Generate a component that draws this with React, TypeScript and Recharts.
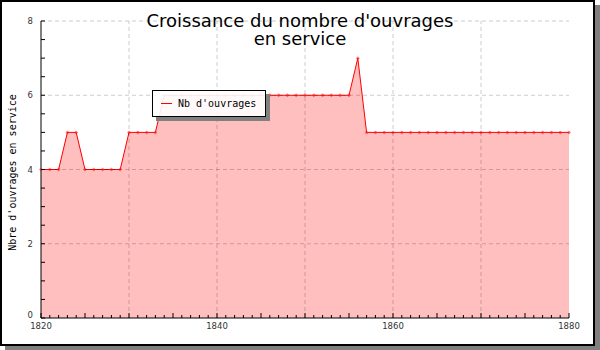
import React from 'react';
import { ComposedChart, Area, XAxis, YAxis, ReferenceLine, Legend } from 'recharts';

const years = [1820, 1821, 1822, 1823, 1824, 1825, 1826, 1827, 1828, 1829, 1830, 1831, 1832, 1833, 1834, 1835, 1836, 1837, 1838, 1839, 1840, 1841, 1842, 1843, 1844, 1845, 1846, 1847, 1848, 1849, 1850, 1851, 1852, 1853, 1854, 1855, 1856, 1857, 1858, 1859, 1860, 1861, 1862, 1863, 1864, 1865, 1866, 1867, 1868, 1869, 1870, 1871, 1872, 1873, 1874, 1875, 1876, 1877, 1878, 1879, 1880];
const ouvrages = [4, 4, 4, 5, 5, 4, 4, 4, 4, 4, 5, 5, 5, 5, 6, 6, 6, 6, 6, 6, 6, 6, 6, 6, 6, 6, 6, 6, 6, 6, 6, 6, 6, 6, 6, 6, 7, 5, 5, 5, 5, 5, 5, 5, 5, 5, 5, 5, 5, 5, 5, 5, 5, 5, 5, 5, 5, 5, 5, 5, 5];
const xLabelTicks = [1820, 1840, 1860, 1880];
const xGridLines = [1830, 1840, 1850, 1860, 1870];
const yTicks = [0, 0.5, 1, 1.5, 2, 2.5, 3, 3.5, 4, 4.5, 5, 5.5, 6, 6.5, 7, 7.5, 8];
const yLabelTicks = [0, 2, 4, 6, 8];
const yGridLines = [2, 4, 6, 8];
const titleLines = ["Croissance du nombre d'ouvrages", 'en service'];
const seriesName = "Nb d'ouvrages";
const yAxisTitle = "Nbre d'ouvrages en service";

const data = years.map((y, i) => ({ year: y, value: ouvrages[i] }));

const XTick = (props: any) => {
  const { x, y, payload } = props;
  const v = payload.value;
  const len = v % 5 === 0 ? 5 : 3;
  return (
    <g>
      <line x1={x} x2={x} y1={y} y2={y - len} stroke="#000" strokeWidth={1} />
      {xLabelTicks.includes(v) && (
        <text x={x} y={y + 11} textAnchor="middle" fontFamily="DejaVu Sans" fontSize={8.5} fill="#333">
          {v}
        </text>
      )}
    </g>
  );
};

const YTick = (props: any) => {
  const { x, y, payload } = props;
  const v = payload.value;
  return (
    <g>
      <line x1={x} x2={x + 4} y1={y} y2={y} stroke="#000" strokeWidth={1} />
      {yLabelTicks.includes(v) && (
        <text x={x - 8} y={v === 0 ? y : y + 3} textAnchor="end" fontFamily="DejaVu Sans" fontSize={8.5} fill="#333">
          {v}
        </text>
      )}
    </g>
  );
};

const Dot = (props: any) => {
  const { cx, cy, index } = props;
  if (cx == null || cy == null) return null;
  return (
    <path key={index} d={`M${cx - 2},${cy} L${cx},${cy - 2} L${cx + 2},${cy} L${cx},${cy + 2} Z`} fill="#ff0000" fillOpacity={0.5} />
  );
};

const LegendContent = (props: any) => {
  const { payload } = props;
  return (
    <div
      style={{
        boxSizing: 'border-box',
        width: 114,
        height: 27,
        border: '1px solid #000',
        background: 'rgba(255,255,255,0.9)',
        boxShadow: '4px 4px 0 #808080',
        position: 'relative',
      }}
    >
      {(payload || []).map((p: any, i: number) => (
        <div key={i} style={{ position: 'absolute', left: 8, top: 5, display: 'flex', alignItems: 'center' }}>
          <div style={{ width: 11, height: 1, background: '#ff0000', marginRight: 6 }} />
          <span style={{ fontFamily: 'DejaVu Sans Mono', fontSize: 10, color: '#000', lineHeight: '15px' }}>{p.value}</span>
        </div>
      ))}
    </div>
  );
};

const YAxisTitle = (props: any) => {
  const { viewBox } = props;
  const cx = viewBox.x + 12;
  const cy = viewBox.y + viewBox.height / 2 + 3;
  return (
    <text x={cx} y={cy} transform={`rotate(-90 ${cx} ${cy})`} textAnchor="middle" dominantBaseline="central" fontFamily="DejaVu Sans Mono" fontSize={10} fill="#000">
      {yAxisTitle}
    </text>
  );
};

export default function App() {
  return (
    <div style={{ position: 'absolute', left: 0, top: 0, width: 600, height: 350, background: '#fff' }}>
      <div
        style={{
          position: 'absolute',
          left: 0,
          top: 0,
          width: 595,
          height: 346,
          boxSizing: 'border-box',
          border: '2px solid #000',
          boxShadow: '5px 5px 0 #808080',
          background: '#fff',
        }}
      />
      <div style={{ position: 'absolute', left: 0, top: 0 }}>
        <ComposedChart width={600} height={350} data={data} margin={{ top: 21, right: 31, bottom: 12, left: 0 }}>
          <XAxis
            dataKey="year"
            type="number"
            domain={[1820, 1880]}
            ticks={years}
            interval={0}
            tick={<XTick />}
            tickLine={false}
            tickSize={0}
            tickMargin={0}
            height={20}
            axisLine={{ stroke: '#000', strokeWidth: 1 }}
          />
          <YAxis
            type="number"
            domain={[0, 8]}
            ticks={yTicks}
            interval={0}
            tick={<YTick />}
            tickLine={false}
            tickSize={0}
            tickMargin={0}
            width={41}
            axisLine={{ stroke: '#000', strokeWidth: 1 }}
            label={{ content: <YAxisTitle /> }}
          />
          <Area
            type="linear"
            dataKey="value"
            name={seriesName}
            stroke="#ff0000"
            strokeWidth={1}
            fill="#ffbfbf"
            fillOpacity={1}
            dot={<Dot />}
            activeDot={false}
            isAnimationActive={false}
          />
          {xGridLines.map((g) => (
            <ReferenceLine key={'x' + g} x={g} stroke="rgba(0,0,0,0.2)" strokeDasharray="4 3" />
          ))}
          {yGridLines.map((g) => (
            <ReferenceLine key={'y' + g} y={g} stroke="rgba(0,0,0,0.2)" strokeDasharray="4 3" />
          ))}
          <Legend
            layout="vertical"
            align="center"
            verticalAlign="middle"
            wrapperStyle={{ left: 152, top: 90, width: 114, height: 27 }}
            content={<LegendContent />}
          />
        </ComposedChart>
      </div>
      <svg width={600} height={350} style={{ position: 'absolute', left: 0, top: 0, pointerEvents: 'none' }}>
        {titleLines.map((t, i) => (
          <text key={i} x={300} y={27 + i * 18} textAnchor="middle" fontFamily="DejaVu Sans" fontSize={18} fill="#000">
            {t}
          </text>
        ))}
      </svg>
    </div>
  );
}
